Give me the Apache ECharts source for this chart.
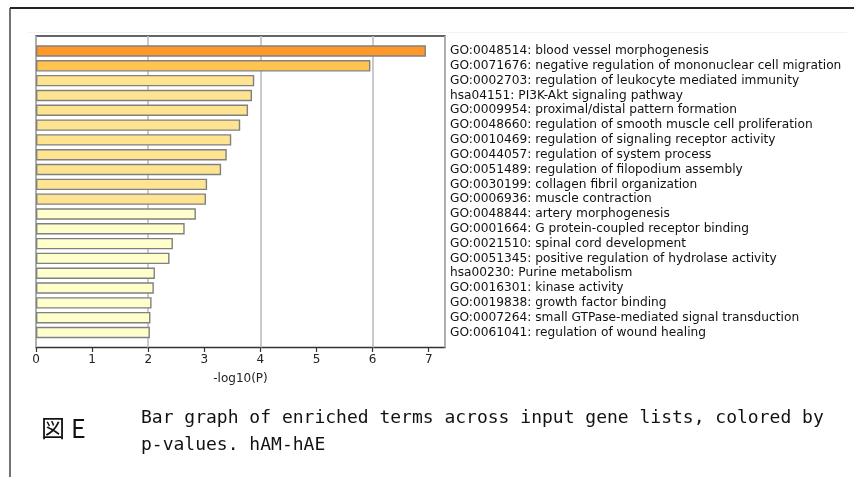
<!DOCTYPE html>
<html>
<head>
<meta charset="utf-8">
<script src="https://cdn.jsdelivr.net/npm/echarts@6/dist/echarts.min.js"></script>
<style>html,body{margin:0;padding:0;background:#fff;}#c{width:854px;height:477px;}</style>
</head>
<body>
<div id="c"></div>
<script>
const terms = [
  "GO:0048514: blood vessel morphogenesis",
  "GO:0071676: negative regulation of mononuclear cell migration",
  "GO:0002703: regulation of leukocyte mediated immunity",
  "hsa04151: PI3K-Akt signaling pathway",
  "GO:0009954: proximal/distal pattern formation",
  "GO:0048660: regulation of smooth muscle cell proliferation",
  "GO:0010469: regulation of signaling receptor activity",
  "GO:0044057: regulation of system process",
  "GO:0051489: regulation of filopodium assembly",
  "GO:0030199: collagen fibril organization",
  "GO:0006936: muscle contraction",
  "GO:0048844: artery morphogenesis",
  "GO:0001664: G protein-coupled receptor binding",
  "GO:0021510: spinal cord development",
  "GO:0051345: positive regulation of hydrolase activity",
  "hsa00230: Purine metabolism",
  "GO:0016301: kinase activity",
  "GO:0019838: growth factor binding",
  "GO:0007264: small GTPase-mediated signal transduction",
  "GO:0061041: regulation of wound healing"
];
const logP = [6.95, 5.96, 3.89, 3.85, 3.78, 3.64, 3.48, 3.40, 3.30, 3.05, 3.03, 2.85, 2.65, 2.44, 2.38, 2.12, 2.10, 2.06, 2.04, 2.03];
const colorGroup = [0, 1, 2, 2, 2, 2, 2, 2, 2, 2, 2, 3, 3, 3, 3, 3, 3, 3, 3, 3];
const palette = ["#fe9929", "#fec44f", "#fee391", "#ffffcc"];
const xTicks = [0, 1, 2, 3, 4, 5, 6, 7];
const xMax = 7.29;
const axisName = "-log10(P)";
const figLabel = "図E";
const captionLines = ["Bar graph of enriched terms across input gene lists, colored by", "p-values. hAM-hAE"];

const chart = echarts.init(document.getElementById('c'), null, {renderer: 'canvas'});
const font = "'DejaVu Sans', sans-serif";
chart.setOption({
  animation: false,
  backgroundColor: '#fff',
  grid: [
    {left: 36, right: 409, top: 36, bottom: 129.5, show: true, borderColor: '#333', borderWidth: 1.3, backgroundColor: 'transparent'},
    {left: 36, right: 409, top: 43.6, bottom: 137.1}
  ],
  xAxis: [
    {gridIndex: 0, type: 'value', min: 0, max: xMax,
     axisLine: {show: false}, splitLine: {show: false},
     axisTick: {show: true, length: 4.5, lineStyle: {color: '#333', width: 1.2},
       customValues: xTicks},
     axisLabel: {margin: 6, color: '#222', fontSize: 12, fontFamily: font, customValues: xTicks,
       formatter: v => String(v)},
     name: axisName, nameLocation: 'middle', nameGap: 25,
     nameTextStyle: {color: '#222', fontSize: 12, fontFamily: font}},
    {gridIndex: 0, type: 'value', min: 0, max: xMax, interval: 2,
     axisLine: {show: false}, axisTick: {show: false}, axisLabel: {show: false},
     splitLine: {show: true, lineStyle: {color: '#bdbdbd', width: 1.6}}},
    {gridIndex: 1, type: 'value', min: 0, max: xMax, show: false}
  ],
  yAxis: [
    {gridIndex: 0, type: 'value', show: false},
    {gridIndex: 1, type: 'category', data: terms, inverse: true, position: 'right',
     axisLine: {show: false}, axisTick: {show: false}, splitLine: {show: false},
     axisLabel: {margin: 5, align: 'left', color: '#111', fontSize: 12.2, fontFamily: font, interval: 0}}
  ],
  series: [{
    type: 'bar', xAxisIndex: 2, yAxisIndex: 1,
    barCategoryGap: '23%',
    z: 3,
    data: logP.map((v, i) => ({value: v, itemStyle: {color: palette[colorGroup[i]]}})),
    itemStyle: {borderColor: '#808080', borderWidth: 1.4}
  }],
  graphic: [
    {type: 'line', shape: {x1: 10, y1: 8, x2: 854, y2: 8}, style: {stroke: '#222', lineWidth: 2}},
    {type: 'line', shape: {x1: 10, y1: 8, x2: 10, y2: 477}, style: {stroke: '#444', lineWidth: 1.5}},
    {type: 'line', shape: {x1: 28, y1: 32.5, x2: 847, y2: 32.5}, style: {stroke: '#f2f2f2', lineWidth: 1}},
    {type: 'text', left: 41, top: 416, style: {text: "図", fontSize: 24, fontFamily: "'Noto Sans CJK JP', sans-serif", fill: '#111'}},
    {type: 'text', left: 71, top: 416, style: {text: "E", fontSize: 25, fontFamily: "'Noto Sans CJK JP', sans-serif", fill: '#111'}},
    {type: 'text', left: 141, top: 409, style: {text: captionLines[0], fontSize: 18, fontFamily: "'DejaVu Sans Mono', monospace", fill: '#111'}},
    {type: 'text', left: 141, top: 436, style: {text: captionLines[1], fontSize: 18, fontFamily: "'DejaVu Sans Mono', monospace", fill: '#111'}}
  ]
});
</script>
</body>
</html>
